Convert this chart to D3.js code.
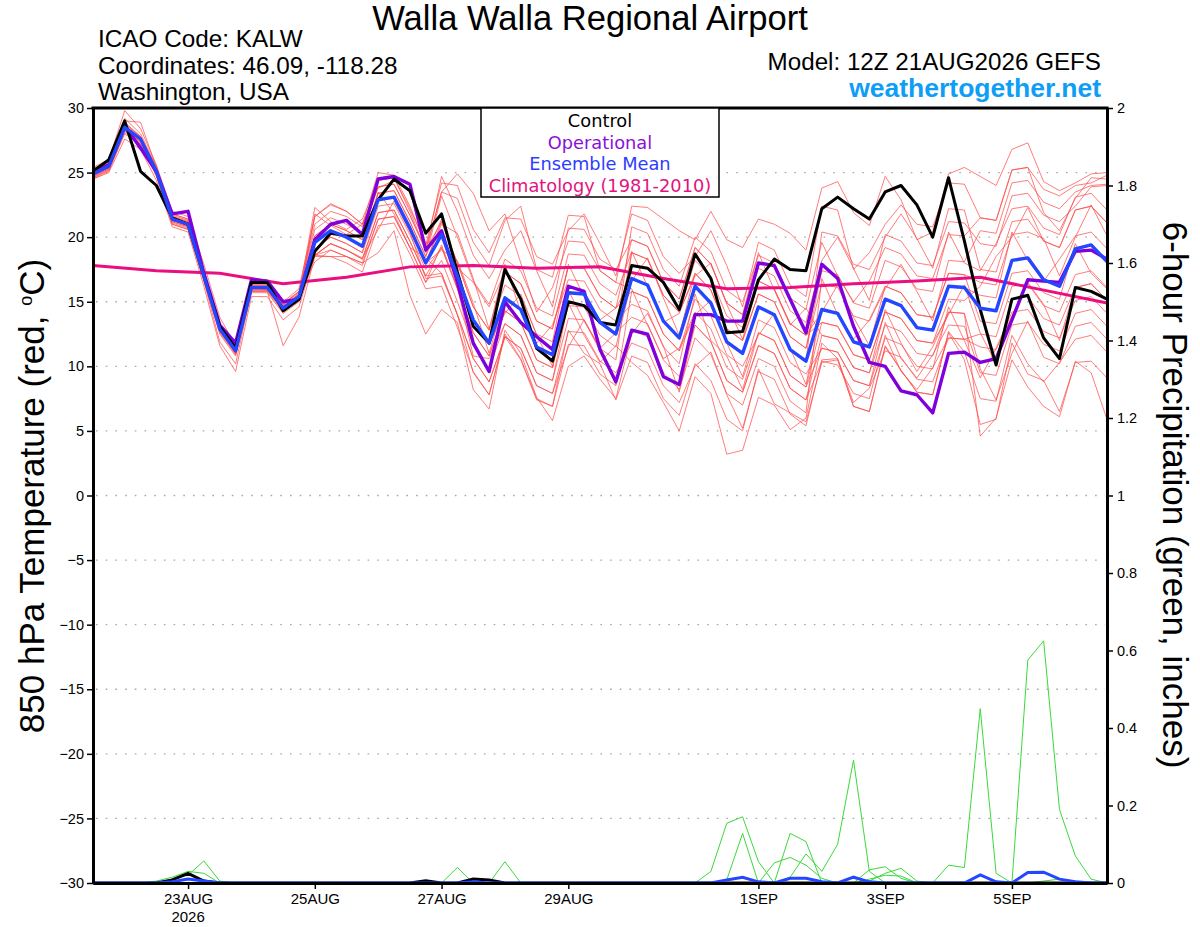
<!DOCTYPE html>
<html>
<head>
<meta charset="utf-8">
<script src="https://cdn.jsdelivr.net/npm/d3@7"></script>
<style>
  body { margin: 0; background: #fff; }
  svg { display: block; }
  text { font-family: "Liberation Sans", Arial, sans-serif; }
</style>
</head>
<body>
<div id="chart-area"></div>
<script>
// GEFS plume, 12Z 21AUG2026 run, 6-hourly out to 384 h
var runStart = Date.UTC(2026, 7, 21, 12);
var leadHours = d3.range(0, 385, 6);
var climLeadHours = d3.range(0, 385, 24);

var dateTicks = [Date.UTC(2026, 7, 23), Date.UTC(2026, 7, 25), Date.UTC(2026, 7, 27), Date.UTC(2026, 7, 29),
                 Date.UTC(2026, 8, 1), Date.UTC(2026, 8, 3), Date.UTC(2026, 8, 5)];
var dateTickLabels = ["23AUG", "25AUG", "27AUG", "29AUG", "1SEP", "3SEP", "5SEP"];
var tempTicks = d3.range(-30, 31, 5);
var precipTicks = [0, 0.2, 0.4, 0.6, 0.8, 1, 1.2, 1.4, 1.6, 1.8, 2];

var legendNames = ["Control", "Operational", "Ensemble Mean", "Climatology (1981-2010)"];

// 850 hPa temperature (C)
var controlTemp = [25.1,26.0,29.0,25.1,24.0,21.5,21.0,17.0,13.1,11.4,16.5,16.5,14.3,15.2,18.9,20.3,20.1,20.1,22.9,24.5,23.6,20.3,21.8,17.3,13.1,11.8,17.5,15.2,11.4,10.4,15.0,14.7,13.4,13.2,17.8,17.6,16.5,14.4,18.7,16.8,12.6,12.7,16.7,18.3,17.5,17.4,22.2,23.1,22.2,21.4,23.5,24.0,22.5,20.0,24.6,19.7,14.4,10.1,15.2,15.5,12.2,10.6,16.1,15.8,15.2];
var operationalTemp = [25.0,25.6,28.6,26.9,25.1,21.8,22.0,17.2,13.2,11.8,16.7,16.6,15.0,15.2,19.8,21.0,21.3,20.2,24.5,24.7,24.1,19.0,20.5,16.5,11.8,9.6,15.0,13.4,12.3,11.3,16.2,15.8,11.3,8.8,12.8,12.5,9.2,8.6,14.0,14.0,13.5,13.5,18.0,17.8,15.2,12.6,17.9,16.8,13.1,10.3,10.0,8.1,7.8,6.4,11.0,11.1,10.3,10.6,13.6,16.7,16.6,16.5,18.9,19.0,18.3];
var meanTemp = [24.9,25.5,28.5,27.6,25.1,21.4,21.0,17.0,12.9,11.2,16.1,16.1,14.5,15.4,19.6,20.5,20.0,19.3,22.9,23.1,20.7,18.0,20.2,17.0,13.6,11.8,15.3,14.4,11.5,10.9,15.7,15.6,13.4,12.5,16.8,16.3,13.5,12.2,16.2,14.9,11.9,11.0,14.6,14.0,11.3,10.4,14.4,14.1,11.9,11.5,15.2,14.7,13.0,12.8,16.2,16.1,14.5,14.3,18.2,18.4,16.7,16.2,19.1,19.4,18.1];
var climTemp = [17.8,17.4,17.2,16.4,16.9,17.7,17.8,17.6,17.7,16.8,16.0,16.1,16.4,16.6,16.9,15.9,14.9];

var memberTemps = [
  [25.4,26.0,29.8,28.4,25.6,22.0,21.6,17.9,13.8,11.6,16.6,16.5,15.0,16.0, 21.6,22.6,22.0,21.0,25.0,24.8,22.4,19.4, 24.2,24.0,20.6,18.8,21.5,21.4,18.5,17.9,20.5,21.8,19.5,17.0, 21.8,21.3,18.5,17.2,18.5,20.5,17.8,14.6,19.6,19.0,16.3,15.4, 22.4,22.1,17.5,18.8,21.0,22.5,21.0,20.8,24.2,24.1, 21.5,21.3,25.2,25.4,21.9,20.5,23.0,24.6,24.5],
  [25.2,25.8,29.0,28.9,25.4,21.8,21.4,17.4,13.2,11.6,16.4,16.4,14.8,15.8, 21.0,22.0,21.6,20.8,24.4,24.6,22.0,19.0, 23.5,24.9,23.4,20.5,21.8,18.0,14.2,16.1,19.7,19.6,17.4,16.5, 22.4,22.3,21.4,20.5,19.8,22.0,19.8,19.2,21.4,21.0,20.3,19.0, 23.8,24.3,21.9,20.9,24.7,22.9,19.8,20.4,24.9,25.4, 24.7,24.0,26.8,27.3,24.3,23.6,24.2,24.9,25.0],
  [24.5,25.0,27.6,26.8,24.4,20.8,20.4,16.2,11.6,9.6,15.4,15.4,13.6,14.6, 18.6,19.5,19.0,18.4,20.6,22.8,20.4,16.8, 17.0,14.0,9.5,7.8,12.3,10.5,7.4,6.9,12.8,11.0,10.2,7.4, 10.8,10.3,7.5,6.2,10.2,8.9,5.9,5.0,9.8,7.1,6.4,5.7, 10.3,10.5,6.9,6.5,11.5,9.7,8.0,7.8,12.6,10.5, 5.5,5.9,11.8,9.4,8.9,6.5,10.3,10.4,9.1],
  [24.6,25.2,28.0,27.2,24.8,21.0,20.6,16.6,11.9,10.2,15.8,15.8,11.6,13.8, 18.5,18.5,18.5,18.0,18.8,20.5,15.5,12.5, 14.4,13.4,8.2,6.7,12.8,11.0,7.6,5.8,10.0,10.8,9.0,7.5, 12.5,14.1,11.6,8.0,13.2,11.9,8.9,8.0,11.6,11.0,8.3,7.4, 12.4,12.1,9.9,9.5,14.4,11.8,9.6,11.5,14.2,14.1, 4.6,6.0,10.5,8.4,6.9,6.1,10.4,9.5,5.9],
  [25.1,25.7,28.8,27.8,25.3,21.6,21.2,17.2,13.1,11.4,16.3,16.3,14.7,15.6, 19.6,20.5,20.0,19.3,22.9,23.1,20.7,18.0, 21.0,20.3,16.8,12.9,17.3,16.4,13.5,12.9,17.7,17.6,15.4,14.5, 19.8,19.3,16.5,15.2,19.2,17.9,14.9,14.0,17.6,17.0,14.3,13.4, 18.2,20.0,17.6,15.1,20.2,19.7,18.0,17.8,21.2,21.1, 19.5,19.3,23.2,23.4,21.7,21.2,22.4,23.9,24.0],
  [24.8,25.4,28.4,27.5,25.0,21.3,20.9,16.9,12.8,11.1,16.0,16.0,14.4,15.3, 21.8,20.9,20.2,21.0,23.9,24.1,21.7,19.0, 21.2,18.0,14.6,12.8,17.9,14.2,11.8,13.2,16.7,16.6,14.4,13.5, 14.8,14.3,11.5,10.2,15.6,12.0,10.8,8.2,12.6,12.0,9.3,8.4, 11.4,11.1,8.9,8.5,12.2,11.7,10.0,9.8,14.6,12.0, 9.1,11.4,14.2,14.4,12.7,12.2,15.1,15.4,14.1],
  [24.7,25.3,28.3,27.4,24.9,21.2,20.8,16.8,12.7,11.0,15.9,15.9,14.3,15.2, 18.6,19.0,18.5,18.0,21.4,21.6,19.2,16.5, 18.2,15.0,11.6,9.8,13.3,12.4,9.5,8.9,14.9,12.4,10.3,11.6, 10.3,9.3,7.2,5.0,9.2,7.9,3.2,3.5,7.6,7.0,5.1,6.0, 11.8,10.6,7.2,8.3,11.2,10.7,9.0,8.8,12.2,12.1, 11.5,11.3,13.9,16.5,14.8,12.0,16.1,16.4,15.1],
  [25.3,25.9,29.2,28.0,25.5,21.8,21.4,17.4,13.3,11.6,16.5,16.5,14.9,15.8, 20.1,21.0,20.5,19.8,23.4,23.6,21.2,18.5, 23.2,20.0,16.6,14.8,18.3,17.4,14.5,13.9,18.7,18.6,16.4,15.5, 18.9,16.2,13.4,14.1,17.2,15.9,12.9,12.0,15.6,15.0,12.3,11.4, 16.4,16.1,13.9,13.5,16.0,17.9,15.8,13.5,18.2,18.1, 20.5,20.3,24.2,24.4,22.7,22.2,23.5,24.0,24.1],
  [24.5,25.1,28.1,27.2,24.7,21.0,20.6,16.6,12.5,10.8,15.7,15.7,14.1,15.0, 19.6,20.5,20.0,19.3,22.9,23.1,20.7,18.0, 19.0,18.2,14.9,11.0,15.3,14.4,11.5,10.9,15.7,15.6,13.4,12.5, 18.8,18.3,15.5,14.2,17.0,18.0,14.8,12.1,16.6,16.0,13.3,12.4, 13.4,13.1,10.9,10.5,14.2,13.7,12.0,11.8,15.2,15.1, 16.2,18.5,20.0,22.3,19.7,19.2,22.1,22.4,21.1],
  [24.8,25.6,28.7,27.5,25.2,21.5,20.8,17.1,13.0,11.0,16.2,15.9,14.6,15.3, 19.1,20.0,19.5,18.8,23.5,21.8,19.2,18.4, 17.2,14.0,10.6,8.8,12.3,11.4,8.5,7.9,11.5,13.6,11.2,8.6, 12.8,12.3,9.5,8.2,12.2,10.9,7.9,7.0,10.6,10.0,7.3,6.4, 16.8,14.0,12.1,13.6,16.2,15.7,14.0,13.8,17.2,17.1, 16.5,16.3,20.2,20.4,19.9,17.0,20.0,22.5,20.1],
  [25.2,25.8,28.9,27.8,25.4,21.7,21.3,17.3,13.2,11.5,16.4,16.4,14.8,15.7, 20.6,21.5,21.0,20.3,23.9,24.1,21.7,19.0, 24.7,22.0,18.6,16.8,19.0,20.5,17.4,14.6,20.7,20.6,18.3,17.5, 19.8,19.3,16.5,15.2,19.2,17.9,14.9,14.0,18.8,15.9,13.2,14.5, 12.4,12.1,9.9,9.5,13.2,12.7,11.0,10.8,14.2,14.1, 9.8,7.4,11.0,13.5,10.7,10.2,13.1,13.4,12.1],
  [24.6,25.2,28.2,27.3,24.8,21.1,20.7,16.7,12.6,10.9,15.8,15.8,14.2,15.1, 18.6,19.5,19.0,18.3,21.9,22.1,19.7,17.0, 19.2,16.0,12.6,10.8,14.3,13.4,10.5,9.9,14.7,14.6,12.4,11.5, 16.6,18.4,15.3,12.4,17.2,15.9,12.9,12.0,15.6,15.0,12.3,11.4, 17.4,17.1,14.9,14.5,18.2,17.7,16.0,15.8,20.4,18.0, 17.4,19.5,22.2,22.4,20.7,20.2,23.1,23.4,22.1],
  [25.0,25.6,28.6,27.7,25.2,21.5,21.1,17.1,13.0,11.3,16.2,16.2,14.6,15.5, 20.1,21.0,20.5,19.8,23.4,23.6,21.2,18.5, 21.4,17.6,16.5,14.6,17.3,16.4,13.5,12.9,17.7,17.6,15.4,14.5, 15.8,15.3,12.5,11.2,15.2,13.9,10.9,10.0,12.4,14.1,11.4,8.6, 14.4,14.1,11.9,11.5,15.2,14.7,13.0,12.8,16.2,16.1, 15.5,15.3,20.4,18.2,16.6,18.3,20.1,20.4,19.1],
  [24.8,25.4,28.4,27.5,25.0,21.3,20.9,16.9,12.8,11.1,16.0,16.0,14.4,15.3, 19.1,20.0,19.5,18.8,22.4,22.6,20.2,17.5, 19.2,16.0,12.6,10.8,14.3,13.4,10.5,9.9,15.9,13.5,11.4,12.6, 13.8,13.3,10.5,9.2,13.2,11.9,8.9,8.0,11.6,11.0,8.3,7.4, 10.4,10.1,7.9,7.5,12.4,9.6,8.2,9.9,12.2,12.1, 12.5,12.3,16.2,16.4,14.7,14.2,17.1,17.4,16.1],
  [25.1,25.7,28.7,27.8,25.3,21.6,21.2,17.2,13.1,11.4,16.3,16.3,14.7,15.6, 22.3,21.2,20.6,21.4,24.4,24.6,22.2,19.5, 20.2,17.0,13.6,11.8,14.1,15.6,12.4,10.0,15.7,15.6,13.4,12.5, 20.8,20.3,17.5,16.2,20.0,18.9,15.9,15.0,18.6,18.0,15.3,14.4, 19.6,17.0,15.0,16.6,19.2,18.7,17.0,16.8,20.2,20.1, 21.5,21.3,25.2,25.4,23.7,23.2,24.0,24.2,24.8],
  [24.7,25.3,28.3,27.4,24.9,21.2,20.8,16.8,12.7,11.0,15.9,15.9,14.3,15.2, 18.6,19.5,19.0,18.3,21.9,22.1,19.7,17.0, 17.2,14.0,10.6,8.8,12.3,11.4,8.5,7.9,12.7,12.6,10.4,9.5, 11.8,11.3,8.5,7.2,10.0,11.1,7.8,5.2,9.6,9.0,6.3,5.4, 10.5,10.6,6.9,6.5,11.6,9.7,8.0,7.8,12.7,11.1, 7.5,7.3,12.4,10.2,8.8,10.3,12.1,12.4,11.1],
  [24.9,25.4,28.6,27.6,25.0,21.4,21.1,17.0,12.9,11.2,16.0,16.2,14.5,15.4, 19.6,20.5,20.0,19.3,22.9,23.1,20.7,18.0, 21.2,18.0,14.6,12.8,16.3,15.4,12.5,11.9,17.9,15.4,13.6,14.5, 16.8,16.3,13.5,12.2,16.2,14.9,11.9,11.0,14.6,14.0,11.3,10.4, 20.4,20.1,17.9,17.5,20.0,21.8,19.9,17.6,22.2,22.1, 17.5,17.3,21.2,21.4,19.7,19.2,22.1,22.4,21.1],
  [25.0,25.6,28.6,27.7,25.2,21.5,21.1,17.1,13.0,11.3,16.2,16.2,14.6,15.5, 18.1,19.0,18.5,17.8,21.4,21.6,19.2,16.5, 19.4,16.1,10.8,10.6,13.3,12.4,9.5,8.9,13.7,13.6,11.4,10.5, 18.8,18.3,15.5,14.2,18.2,16.9,13.9,13.0,16.6,16.0,13.3,12.4, 14.2,16.3,13.8,11.6,16.2,15.7,14.0,13.8,17.2,17.1, 13.5,13.3,17.2,17.4,15.7,15.2,19.5,17.2,16.0],
  [24.8,25.4,28.4,27.5,25.0,21.3,20.9,16.9,12.8,11.1,16.0,16.0,14.4,15.3, 21.6,22.5,22.0,21.0,23.8,24.4,23.6,18.8, 23.5,23.0,19.6,17.8,21.3,22.4,17.5,16.9,21.7,21.6,17.4,16.5, 16.0,13.2,10.6,11.4,14.2,12.9,9.9,9.0,12.6,12.0,9.3,8.4, 13.4,13.1,10.9,10.5,14.2,13.7,12.0,11.8,14.0,16.3, 12.6,10.2,15.2,15.4,13.7,13.2,16.1,16.4,15.1],
  [25.0,25.4,28.3,27.7,25.0,21.3,21.1,16.9,12.8,11.3,16.0,16.2,14.4,15.5, 18.6,18.5,18.0,17.3,20.9,21.1,18.7,16.0, 16.2,13.0,9.6,7.8,12.5,10.6,7.5,6.9,11.7,11.6,9.4,8.5, 15.8,15.3,12.5,11.2,14.0,15.1,11.8,9.2,13.6,13.0,10.3,9.4, 11.4,11.1,8.9,8.5,13.4,10.6,9.1,10.9,13.2,13.1, 9.5,9.3,13.2,13.4,11.7,11.2,14.1,14.4,13.1]
];

// 6-hour precipitation (inches)
var controlPrecip = [0,0,0,0,0,0.008,0.025,0.005,0,0,0,0,0,0,0,0,0,0,0,0,0,0.006,0,0,0.01,0.008,0,0,0,0,0,0,0,0,0,0,0,0,0,0,0,0,0,0,0,0,0,0,0,0,0,0,0,0,0,0,0,0,0,0,0,0,0,0,0];
var meanPrecip = [0,0,0,0,0,0.003,0.01,0.005,0,0,0,0,0,0,0,0,0,0,0,0,0,0,0,0,0.003,0,0,0,0,0,0,0,0,0,0,0,0,0,0,0,0.008,0.015,0.003,0,0.012,0.012,0.003,0,0.015,0.003,0,0,0,0,0,0,0.021,0.003,0,0.027,0.028,0.01,0.003,0,0];
var memberPrecip = [
  [0,0,0,0,0,0.01,0.02,0.057,0.005,0,0,0,0,0,0,0,0,0,0,0,0,0,0,0,0,0,0,0,0,0,0,0,0,0,0,0,0,0,0,0.03,0.154,0.171,0.055,0,0,0,0,0,0,0,0,0,0,0,0,0,0,0,0,0,0,0,0,0,0],
  [0,0,0,0,0.005,0.015,0.03,0.025,0,0,0,0,0,0,0,0,0,0,0,0,0,0,0,0,0,0,0,0,0,0,0,0,0,0,0,0,0,0,0,0,0.008,0.128,0,0,0.128,0.107,0,0,0,0,0,0,0,0,0,0,0,0,0,0,0,0,0,0,0],
  [0,0,0,0,0,0,0,0,0,0,0,0,0,0,0,0,0,0,0,0,0,0,0,0.04,0,0,0.055,0,0,0,0,0,0,0,0,0,0,0,0,0,0,0,0,0.052,0.066,0.046,0.012,0,0,0,0,0,0,0,0,0,0,0,0,0,0,0,0,0,0],
  [0,0,0,0,0,0,0,0,0,0,0,0,0,0,0,0,0,0,0,0,0,0,0,0,0,0,0,0,0,0,0,0,0,0,0,0,0,0,0,0,0,0,0,0,0.015,0.075,0.03,0.1,0.317,0.03,0,0,0,0,0,0,0,0,0,0,0,0,0,0,0],
  [0,0,0,0,0,0,0,0,0,0,0,0,0,0,0,0,0,0,0,0,0,0,0,0,0,0,0,0,0,0,0,0,0,0,0,0,0,0,0,0,0,0,0,0,0,0,0,0,0,0,0,0,0,0,0.046,0.04,0.45,0.025,0,0.575,0.625,0.19,0.07,0.01,0],
  [0,0,0,0,0,0,0,0,0,0,0,0,0,0,0,0,0,0,0,0,0,0,0,0,0,0,0,0,0,0,0,0,0,0,0,0,0,0,0,0,0,0,0,0,0,0,0,0,0,0.034,0.042,0.012,0,0,0,0,0,0,0,0,0,0,0,0,0],
  [0,0,0,0,0,0,0,0,0,0,0,0,0,0,0,0,0,0,0,0,0,0,0,0,0,0,0,0,0,0,0,0,0,0,0,0,0,0,0,0,0,0,0,0,0,0,0,0,0,0.005,0.025,0.038,0.005,0,0,0,0,0,0,0,0,0,0,0,0],
  [0,0,0,0,0,0,0,0,0,0,0,0,0,0,0,0,0,0,0,0,0,0,0,0,0,0,0,0,0,0,0,0,0,0,0,0,0,0,0,0,0,0,0,0,0,0,0,0,0,0.01,0.02,0.018,0,0,0,0,0,0,0,0,0.005,0.01,0.005,0,0]
];

var svg = d3.select("#chart-area")
  .append("svg")
    .attr("width", 1200)
    .attr("height", 927);

svg.append("rect").attr("width", 1200).attr("height", 927).attr("fill", "#fff");

var plotLeft = 93, plotRight = 1107, plotTop = 108, plotBottom = 883;

var x = d3.scaleUtc()
  .domain([new Date(runStart), new Date(runStart + 384 * 3600e3)])
  .range([plotLeft, plotRight]);
var yT = d3.scaleLinear().domain([-30, 30]).range([plotBottom, plotTop]);
var yP = d3.scaleLinear().domain([0, 2]).range([plotBottom, plotTop]);

function timeAt(h) { return new Date(runStart + h * 3600e3); }

var tempLine = d3.line()
  .x(function(d, i) { return x(timeAt(leadHours[i])); })
  .y(function(d) { return yT(d); });
var climLine = d3.line()
  .x(function(d, i) { return x(timeAt(climLeadHours[i])); })
  .y(function(d) { return yT(d); });
var precipLine = d3.line()
  .x(function(d, i) { return x(timeAt(leadHours[i])); })
  .y(function(d) { return yP(d); });

// dotted grid
svg.append("g").selectAll("line")
  .data(tempTicks.filter(function(t) { return t > -30 && t < 30; }))
  .enter().append("line")
    .attr("x1", plotLeft + 3).attr("x2", plotRight - 2)
    .attr("y1", function(d) { return yT(d); })
    .attr("y2", function(d) { return yT(d); })
    .attr("stroke", "#a8a8a8")
    .attr("stroke-width", 1.4)
    .attr("stroke-dasharray", "1.6,8.1");

// ensemble members
svg.append("g").selectAll("path")
  .data(memberTemps)
  .enter().append("path")
    .attr("d", tempLine)
    .attr("fill", "none")
    .attr("stroke", "#ff4a4a")
    .attr("stroke-opacity", 0.8)
    .attr("stroke-width", 0.9);

svg.append("g").selectAll("path")
  .data(memberPrecip)
  .enter().append("path")
    .attr("d", precipLine)
    .attr("fill", "none")
    .attr("stroke", "#3ad93a")
    .attr("stroke-width", 1);

svg.append("path").datum(climTemp).attr("d", climLine)
  .attr("fill", "none").attr("stroke", "#ea0e80").attr("stroke-width", 3);
svg.append("path").datum(operationalTemp).attr("d", tempLine)
  .attr("fill", "none").attr("stroke", "#8000dc").attr("stroke-width", 3.4).attr("stroke-linejoin", "round");
svg.append("path").datum(controlTemp).attr("d", tempLine)
  .attr("fill", "none").attr("stroke", "#000").attr("stroke-width", 3).attr("stroke-linejoin", "round");
svg.append("path").datum(meanTemp).attr("d", tempLine)
  .attr("fill", "none").attr("stroke", "#2446ff").attr("stroke-width", 3.4).attr("stroke-linejoin", "round");

svg.append("path").datum(controlPrecip).attr("d", precipLine)
  .attr("fill", "none").attr("stroke", "#000").attr("stroke-width", 3);
svg.append("path").datum(meanPrecip).attr("d", precipLine)
  .attr("fill", "none").attr("stroke", "#2446ff").attr("stroke-width", 3);

// axes
var leftAxis = svg.append("g")
  .attr("transform", "translate(" + plotLeft + ",0)")
  .call(d3.axisLeft(yT).tickValues(tempTicks).tickSize(6).tickSizeOuter(0).tickPadding(3));
var rightAxis = svg.append("g")
  .attr("transform", "translate(" + plotRight + ",0)")
  .call(d3.axisRight(yP).tickValues(precipTicks).tickSize(6).tickSizeOuter(0).tickPadding(4)
    .tickFormat(function(d) { return String(+d.toFixed(1)); }));
var bottomAxis = svg.append("g")
  .attr("transform", "translate(0," + plotBottom + ")")
  .call(d3.axisBottom(x).tickValues(dateTicks.map(function(d) { return new Date(d); }))
    .tickSize(6).tickSizeOuter(0).tickPadding(4)
    .tickFormat(function(d, i) { return dateTickLabels[i]; }));

[leftAxis, rightAxis, bottomAxis].forEach(function(g) {
  g.select(".domain").attr("stroke", "#000").attr("stroke-width", 3);
  g.selectAll(".tick line").attr("stroke", "#000").attr("stroke-width", 1.5);
  g.selectAll(".tick text").attr("fill", "#000")
    .style("font-family", "'Liberation Sans', Arial, sans-serif").style("font-size", "14.5px");
});
bottomAxis.selectAll(".tick text").style("font-size", "15px");

bottomAxis.append("text")
  .attr("x", x(new Date(dateTicks[0]))).attr("y", 39)
  .attr("text-anchor", "middle").attr("fill", "#000")
  .style("font-size", "15px")
  .text("2026");

svg.append("line")
  .attr("x1", plotLeft - 1.5).attr("x2", plotRight + 1.5)
  .attr("y1", plotTop).attr("y2", plotTop)
  .attr("stroke", "#000").attr("stroke-width", 3);

// axis titles
var leftTitle = svg.append("text")
  .attr("transform", "translate(44,496) rotate(-90)")
  .attr("text-anchor", "middle")
  .style("font-size", "35px");
leftTitle.append("tspan").text("850 hPa Temperature (red, ");
leftTitle.append("tspan").attr("dy", -12).style("font-size", "18px").text("o");
leftTitle.append("tspan").attr("dy", 12).text("C)");

svg.append("text")
  .attr("transform", "translate(1163,495) rotate(90)")
  .attr("text-anchor", "middle")
  .style("font-size", "35px")
  .text("6-hour Precipitation (green, inches)");

// header
svg.append("text").attr("x", 590).attr("y", 30).attr("text-anchor", "middle")
  .style("font-size", "34.6px").text("Walla Walla Regional Airport");
var headLeft = ["ICAO Code: KALW", "Coordinates: 46.09, -118.28", "Washington, USA"];
svg.append("g").selectAll("text")
  .data(headLeft)
  .enter().append("text")
    .attr("x", 98)
    .attr("y", function(d, i) { return 47 + i * 26.5; })
    .style("font-size", "24.3px")
    .text(function(d) { return d; });
svg.append("text").attr("x", 1101).attr("y", 70).attr("text-anchor", "end")
  .style("font-size", "24.2px").text("Model: 12Z 21AUG2026 GEFS");
svg.append("text").attr("x", 1101).attr("y", 97).attr("text-anchor", "end")
  .attr("fill", "#0e9ef5").style("font-size", "26.5px").style("font-weight", "bold")
  .text("weathertogether.net");

// legend
var legendColors = ["#000", "#8a10d8", "#2d3cff", "#e3137e"];
svg.append("rect")
  .attr("x", 481).attr("y", 108).attr("width", 238).attr("height", 89)
  .attr("fill", "#fff").attr("stroke", "#000").attr("stroke-width", 1.5);
svg.append("g").selectAll("text")
  .data(legendNames)
  .enter().append("text")
    .attr("x", 600)
    .attr("y", function(d, i) { return 127 + i * 21.6; })
    .attr("text-anchor", "middle")
    .attr("fill", function(d, i) { return legendColors[i]; })
    .style("font-family", "'DejaVu Sans', Verdana, sans-serif")
    .style("font-size", "17.8px")
    .text(function(d) { return d; });
</script>
</body>
</html>
